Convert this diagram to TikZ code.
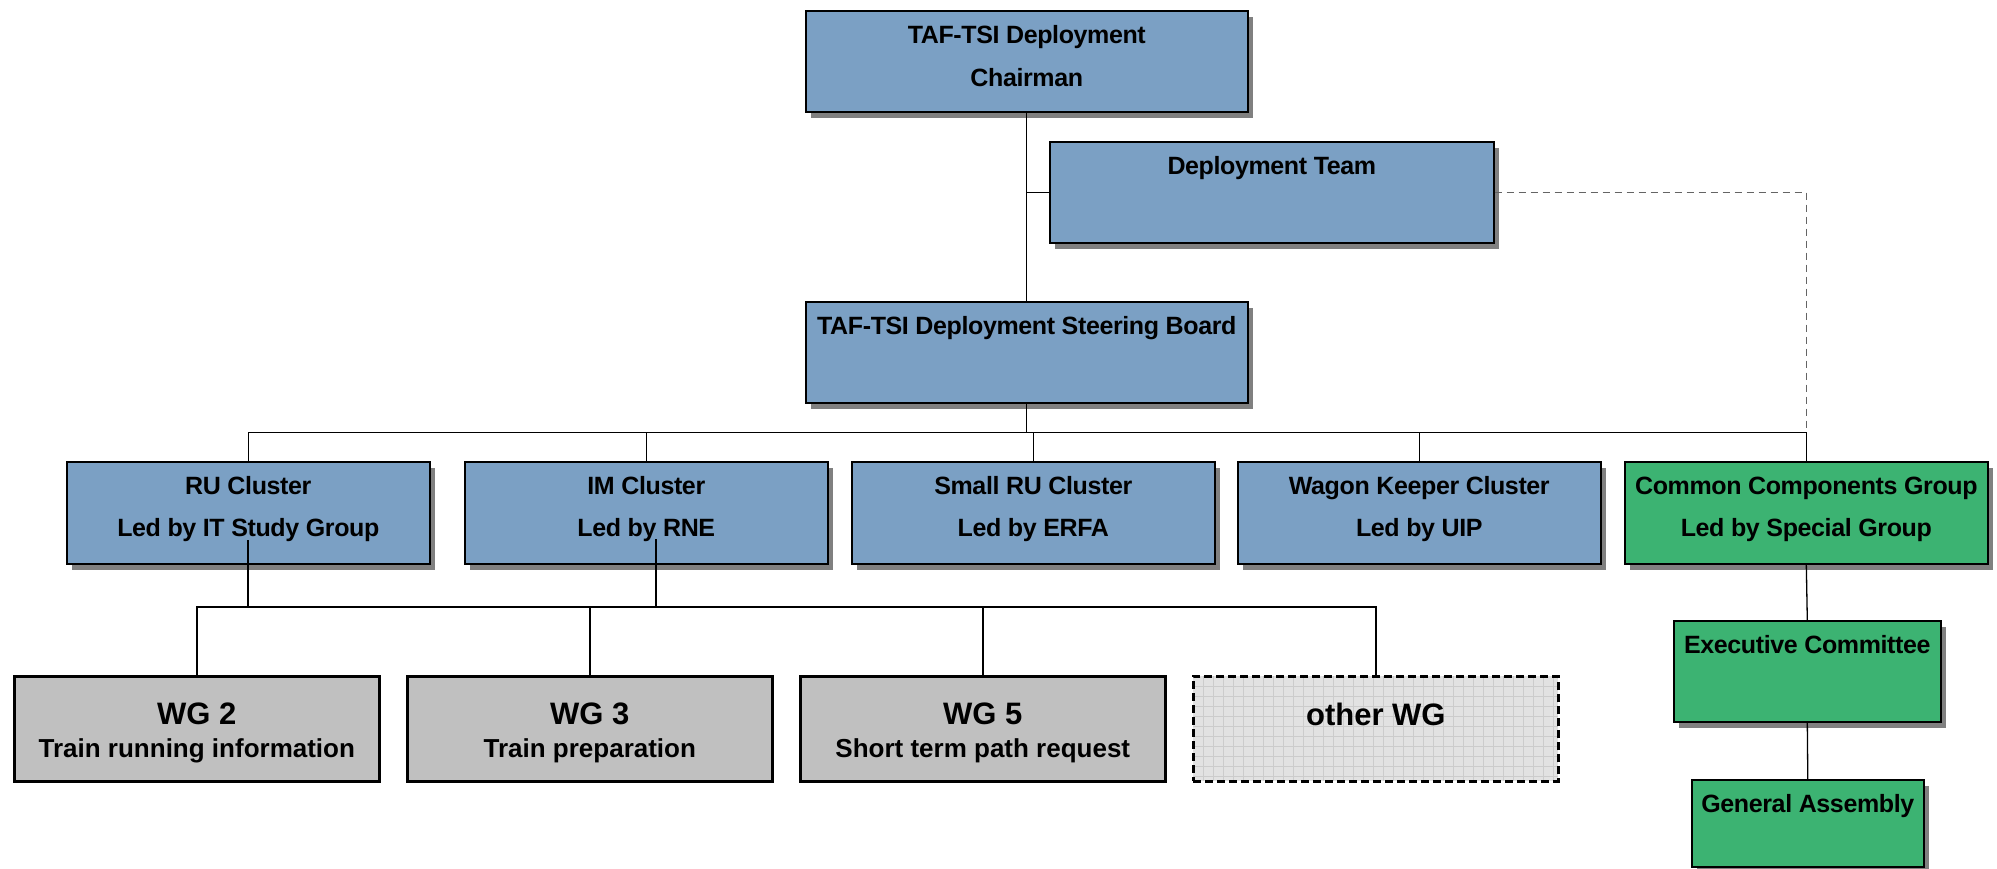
\documentclass[tikz,border=0pt]{standalone}
\usepackage{fontspec}
\setmainfont{Liberation Sans}
\newfontfamily\boxfont{Liberation Sans}[LetterSpace=-1.5]
\usetikzlibrary{shadows}
\definecolor{boxblue}{RGB}{123,160,196}
\definecolor{boxgreen}{RGB}{60,179,114}
\definecolor{wggray}{RGB}{192,192,192}
\definecolor{shadowgray}{RGB}{128,128,128}
\definecolor{othergray}{RGB}{226,226,226}
\definecolor{gridgray}{RGB}{204,204,204}
\definecolor{dashgray}{RGB}{100,100,100}
\begin{document}
\begin{tikzpicture}[x=1pt,y=-1pt,
  orgbox/.style={draw=black, line width=1.6pt, rectangle, inner sep=0pt, anchor=north west,
    drop shadow={shadow xshift=5pt, shadow yshift=-6pt, fill=shadowgray, opacity=1}},
  bluebox/.style={orgbox, fill=boxblue},
  greenbox/.style={orgbox, fill=boxgreen},
  clusterbox/.style={bluebox, minimum width=363pt, minimum height=102pt},
  wgbox/.style={draw=black, line width=2.6pt, fill=wggray, rectangle, inner sep=0pt,
    anchor=north west, minimum width=365pt, minimum height=105pt},
  otherbox/.style={draw=black, line width=2.6pt, dash pattern=on 8pt off 4pt, fill=othergray,
    rectangle, inner sep=0pt, anchor=north west, minimum width=365pt, minimum height=105pt,
    path picture={
      \foreach \k in {1,...,36}
        \draw[gridgray, line width=0.8pt, solid] ([xshift=\k*10pt]path picture bounding box.north west) -- ([xshift=\k*10pt]path picture bounding box.south west);
      \foreach \k in {1,...,10}
        \draw[gridgray, line width=0.8pt, solid] ([yshift=-\k*10pt]path picture bounding box.north west) -- ([yshift=-\k*10pt]path picture bounding box.north east);
    }},
  lbl/.style={anchor=base, inner sep=0pt, font=\boxfont\bfseries\fontsize{25}{30}\selectfont},
  wgtitle/.style={anchor=base, inner sep=0pt, font=\bfseries\fontsize{31}{36}\selectfont},
  wgsub/.style={anchor=base, inner sep=0pt, font=\bfseries\fontsize{26}{30}\selectfont},
  conn/.style={draw=black, line width=1.3pt},
  wgconn/.style={draw=black, line width=2.3pt},
  dashline/.style={draw=dashgray, line width=1.3pt, dash pattern=on 7pt off 5pt},
]
\useasboundingbox (0,0) rectangle (1997,868);

% boxes
\node[bluebox, minimum width=442pt, minimum height=101pt] (chair) at (805,10) {};
\node[bluebox, minimum width=444pt, minimum height=101pt] (dt) at (1049,141) {};
\node[bluebox, minimum width=442pt, minimum height=101pt] (sb) at (805,301) {};
\node[clusterbox] (ru) at (66,461) {};
\node[clusterbox] (im) at (464,461) {};
\node[clusterbox] (sru) at (851,461) {};
\node[clusterbox] (wk) at (1237,461) {};
\node[greenbox, minimum width=363pt, minimum height=102pt] (ccg) at (1624,461) {};
\node[greenbox, minimum width=267pt, minimum height=101pt] (exc) at (1673,620) {};
\node[greenbox, minimum width=232pt, minimum height=87pt] (ga) at (1691,779) {};
\node[wgbox] (wg2) at (13,675) {};
\node[wgbox] (wg3) at (406,675) {};
\node[wgbox] (wg5) at (799,675) {};
\node[otherbox] (owg) at (1192,675) {};

% coordinates
\coordinate (busc) at ([yshift=-29pt]sb.south);
\coordinate (dtj) at (chair.south |- dt.west);
\coordinate (wgbus) at (0,607);
\coordinate (ruS) at ([yshift=-79pt]ru.north);
\coordinate (imS) at ([xshift=10pt,yshift=-78pt]im.north);

% connectors
\draw[dashline] (dt.east) -| (ccg.north);
\draw[conn] (chair.south) -- (sb.north);
\draw[conn] (dtj) -- (dt.west);
\draw[conn] (sb.south) -- (busc);
\draw[conn] (ru.north) |- (busc) -| (ccg.north);
\draw[conn] (im.north) -- (im.north |- busc);
\draw[conn] (sru.north) -- (sru.north |- busc);
\draw[conn] (wk.north) -- (wk.north |- busc);
\draw[conn] (ccg.south) -- (exc.north);
\draw[conn] (exc.south) -- (ga.north);
\draw[wgconn] (ruS) -- (ruS |- wgbus);
\draw[wgconn] (imS) -- (imS |- wgbus);
\draw[wgconn] (wg2.north) -- (wg2.north |- wgbus) -- (owg.north |- wgbus) -- (owg.north);
\draw[wgconn] (wg3.north) -- (wg3.north |- wgbus);
\draw[wgconn] (wg5.north) -- (wg5.north |- wgbus);

% texts
\node[lbl] (chairT1) at ([yshift=-33pt]chair.north) {TAF-TSI Deployment};
\node[lbl] (chairT2) at ([yshift=-76pt]chair.north) {Chairman};
\node[lbl] (dtT) at ([yshift=-33pt]dt.north) {Deployment Team};
\node[lbl] (sbT) at ([yshift=-33pt]sb.north) {TAF-TSI Deployment Steering Board};
\node[lbl] (ruT1) at ([yshift=-33pt]ru.north) {RU Cluster};
\node[lbl] (ruT2) at ([yshift=-75pt]ru.north) {Led by IT Study Group};
\node[lbl] (imT1) at ([yshift=-33pt]im.north) {IM Cluster};
\node[lbl] (imT2) at ([yshift=-75pt]im.north) {Led by RNE};
\node[lbl] (sruT1) at ([yshift=-33pt]sru.north) {Small RU Cluster};
\node[lbl] (sruT2) at ([yshift=-75pt]sru.north) {Led by ERFA};
\node[lbl] (wkT1) at ([yshift=-33pt]wk.north) {Wagon Keeper Cluster};
\node[lbl] (wkT2) at ([yshift=-75pt]wk.north) {Led by UIP};
\node[lbl] (ccgT1) at ([yshift=-33pt]ccg.north) {Common Components Group};
\node[lbl] (ccgT2) at ([yshift=-75pt]ccg.north) {Led by Special Group};
\node[lbl] (excT) at ([yshift=-33pt]exc.north) {Executive Committee};
\node[lbl] (gaT) at ([yshift=-33pt]ga.north) {General Assembly};
\node[wgtitle] (wg2T1) at ([yshift=-49pt]wg2.north) {WG 2};
\node[wgsub] (wg2T2) at ([yshift=-82pt]wg2.north) {Train running information};
\node[wgtitle] (wg3T1) at ([yshift=-49pt]wg3.north) {WG 3};
\node[wgsub] (wg3T2) at ([yshift=-82pt]wg3.north) {Train preparation};
\node[wgtitle] (wg5T1) at ([yshift=-49pt]wg5.north) {WG 5};
\node[wgsub] (wg5T2) at ([yshift=-82pt]wg5.north) {Short term path request};
\node[wgtitle] (owgT) at ([yshift=-50pt]owg.north) {other WG};
\end{tikzpicture}
\end{document}
